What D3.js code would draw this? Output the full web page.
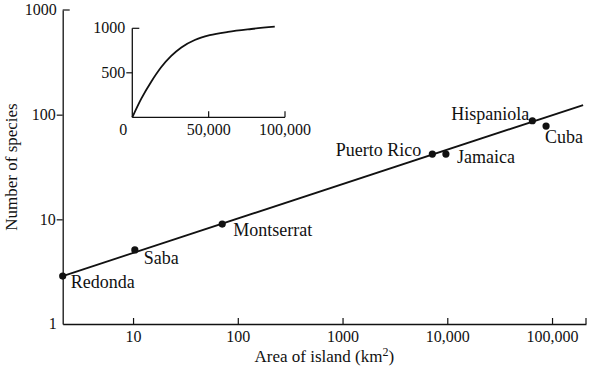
<!DOCTYPE html>
<html>
<head>
<meta charset="utf-8">
<script src="https://cdn.jsdelivr.net/npm/d3@7"></script>
<style>
    body { margin: 0; background: #ffffff; }
    svg { display: block; }
    text { font-family: "Liberation Serif", "Times New Roman", serif; fill: #111111; }
</style>
</head>
<body>
<svg id="chart"></svg>
<script>
// islands of the West Indies: area (km2) vs number of species
const islands = ["Redonda", "Saba", "Montserrat", "Puerto Rico", "Jamaica", "Hispaniola", "Cuba"];
const islandArea = [2.13, 10.4, 71, 7200, 9700, 64900, 87700];
const islandSpecies = [2.87, 5.1, 9.0, 42, 42, 87.5, 77.8];

// fitted species-area line, read at its two ends
const fitArea = [2.13, 198000];
const fitSpecies = [2.87, 123.6];

const xTicks = [10, 100, 1000, 10000, 100000];
const xTickLabels = ["10", "100", "1000", "10,000", "100,000"];
const yTicks = [1, 10, 100, 1000];
const yTickLabels = ["1", "10", "100", "1000"];

// inset: same relation on linear axes
const insetArea = [0, 5900, 12400, 19000, 25500, 32100, 40900, 50700, 62700, 77900, 93300];
const insetSpecies = [0, 210, 400, 565, 690, 785, 868, 922, 960, 992, 1018];
const insetXTicks = [0, 50000, 100000];
const insetXTickLabels = ["0", "50,000", "100,000"];
const insetYTicks = [0, 500, 1000];
const insetYTickLabels = ["0", "500", "1000"];

function create_chart() {
    let width = 589;
    let height = 370;

    let svg = d3.select("#chart")
        .attr("width", width)
        .attr("height", height);

    let x = d3.scaleLog().domain([2.13, 211000]).range([62.7, 586]);
    let y = d3.scaleLog().domain([1, 1000]).range([324, 10]);

    let ink = "#111111";

    // x axis: ticks point up into the plot
    let xAxis = d3.axisBottom(x)
        .tickValues(xTicks)
        .tickSizeInner(-6)
        .tickSizeOuter(0)
        .tickFormat(function (d, i) { return xTickLabels[i]; });

    let gx = svg.append("g")
        .attr("transform", "translate(0," + y(1) + ")")
        .call(xAxis);
    gx.attr("font-family", null).attr("font-size", null);
    gx.select(".domain").attr("stroke", ink).attr("stroke-width", 1.3);
    gx.selectAll(".tick line").attr("stroke", ink).attr("stroke-width", 1.2);
    gx.selectAll(".tick text")
        .attr("y", 18)
        .attr("dy", 0)
        .attr("fill", ink)
        .style("font-size", "16px");

    // end tick of the x axis
    svg.append("line")
        .attr("x1", x.range()[1]).attr("x2", x.range()[1])
        .attr("y1", y(1)).attr("y2", y(1) - 6)
        .attr("stroke", ink).attr("stroke-width", 1.2);

    // y axis: ticks point out, except the top one
    let yAxis = d3.axisLeft(y)
        .tickValues(yTicks.slice(1, 3))
        .tickSizeInner(6)
        .tickSizeOuter(0)
        .tickFormat(function (d, i) { return yTickLabels[i + 1]; });

    let gy = svg.append("g")
        .attr("transform", "translate(" + x.range()[0] + ",0)")
        .call(yAxis);
    gy.attr("font-family", null).attr("font-size", null);
    gy.select(".domain").attr("stroke", ink).attr("stroke-width", 1.3);
    gy.selectAll(".tick line").attr("stroke", ink).attr("stroke-width", 1.2);
    gy.selectAll(".tick text")
        .attr("x", -7)
        .attr("fill", ink)
        .style("font-size", "16px");

    svg.append("line")
        .attr("x1", x.range()[0]).attr("x2", x.range()[0] + 7)
        .attr("y1", y(1000)).attr("y2", y(1000))
        .attr("stroke", ink).attr("stroke-width", 1.2);

    svg.selectAll(".yend")
        .data([0, 3])
        .enter().append("text")
        .attr("class", "yend")
        .attr("x", x.range()[0] - 6)
        .attr("y", function (i) { return y(yTicks[i]); })
        .attr("dy", "0.32em")
        .attr("text-anchor", "end")
        .style("font-size", "16px")
        .text(function (i) { return yTickLabels[i]; });

    // axis titles
    let xTitle = svg.append("text")
        .attr("x", (x.range()[0] + x.range()[1]) / 2)
        .attr("y", 362)
        .attr("text-anchor", "middle")
        .style("font-size", "17px");
    xTitle.append("tspan").text("Area of island (km");
    xTitle.append("tspan").text("2").attr("dy", -6).style("font-size", "12px");
    xTitle.append("tspan").text(")").attr("dy", 6);

    svg.append("text")
        .attr("transform", "translate(17," + (y(1) + y(1000)) / 2 + ") rotate(-90)")
        .attr("text-anchor", "middle")
        .style("font-size", "17px")
        .text("Number of species");

    // fitted line
    let line = d3.line()
        .x(function (d) { return x(d[0]); })
        .y(function (d) { return y(d[1]); });

    svg.append("path")
        .datum(d3.zip(fitArea, fitSpecies))
        .attr("d", line)
        .attr("fill", "none")
        .attr("stroke", ink)
        .attr("stroke-width", 1.8);

    // island points and names
    let labelPlace = {
        "Redonda": [8, 12, "start"],
        "Saba": [9, 14, "start"],
        "Montserrat": [11, 12, "start"],
        "Puerto Rico": [-11, 2, "end"],
        "Jamaica": [11, 9, "start"],
        "Hispaniola": [-3, -1, "end"],
        "Cuba": [-1, 17, "start"]
    };

    let points = svg.append("g")
        .selectAll("g")
        .data(islands)
        .enter().append("g")
        .attr("transform", function (d, i) {
            return "translate(" + x(islandArea[i]) + "," + y(islandSpecies[i]) + ")";
        });

    points.append("circle")
        .attr("r", 3.6)
        .attr("fill", ink);

    points.append("text")
        .attr("x", function (d) { return labelPlace[d][0]; })
        .attr("y", function (d) { return labelPlace[d][1]; })
        .attr("text-anchor", function (d) { return labelPlace[d][2]; })
        .style("font-size", "18px")
        .text(function (d) { return d; });

    create_inset(svg);
}

function create_inset(svg) {
    let ink = "#111111";
    let xi = d3.scaleLinear().domain([0, 100000]).range([132.3, 285]);
    let yi = d3.scaleLinear().domain([0, 1000]).range([117.3, 28.3]);

    let g = svg.append("g").attr("class", "inset");

    g.append("line")
        .attr("x1", xi(0)).attr("x2", xi(100000))
        .attr("y1", yi(0)).attr("y2", yi(0))
        .attr("stroke", ink).attr("stroke-width", 1.3);
    g.append("line")
        .attr("x1", xi(0)).attr("x2", xi(0))
        .attr("y1", yi(0)).attr("y2", yi(1000))
        .attr("stroke", ink).attr("stroke-width", 1.3);

    // x ticks point up
    g.selectAll(".ixt")
        .data(insetXTicks.slice(1))
        .enter().append("line")
        .attr("x1", function (d) { return xi(d); })
        .attr("x2", function (d) { return xi(d); })
        .attr("y1", yi(0)).attr("y2", yi(0) - 6)
        .attr("stroke", ink).attr("stroke-width", 1.2);

    g.selectAll(".ixl")
        .data(insetXTicks)
        .enter().append("text")
        .attr("x", function (d) { return d === 0 ? xi(d) - 9 : xi(d); })
        .attr("y", yi(0) + 18)
        .attr("text-anchor", "middle")
        .style("font-size", "16px")
        .text(function (d, i) { return insetXTickLabels[i]; });

    // y ticks: 500 points out, 1000 points in
    g.append("line")
        .attr("x1", xi(0) - 6).attr("x2", xi(0))
        .attr("y1", yi(500)).attr("y2", yi(500))
        .attr("stroke", ink).attr("stroke-width", 1.2);
    g.append("line")
        .attr("x1", xi(0)).attr("x2", xi(0) + 7)
        .attr("y1", yi(1000)).attr("y2", yi(1000))
        .attr("stroke", ink).attr("stroke-width", 1.2);

    g.selectAll(".iyl")
        .data(insetYTicks.slice(1))
        .enter().append("text")
        .attr("x", xi(0) - 7)
        .attr("y", function (d) { return yi(d); })
        .attr("dy", "0.32em")
        .attr("text-anchor", "end")
        .style("font-size", "16px")
        .text(function (d, i) { return insetYTickLabels[i + 1]; });

    let curve = d3.line()
        .x(function (d) { return xi(d[0]); })
        .y(function (d) { return yi(d[1]); })
        .curve(d3.curveMonotoneX);

    g.append("path")
        .datum(d3.zip(insetArea, insetSpecies))
        .attr("d", curve)
        .attr("fill", "none")
        .attr("stroke", ink)
        .attr("stroke-width", 1.8);
}

create_chart();
</script>
</body>
</html>
